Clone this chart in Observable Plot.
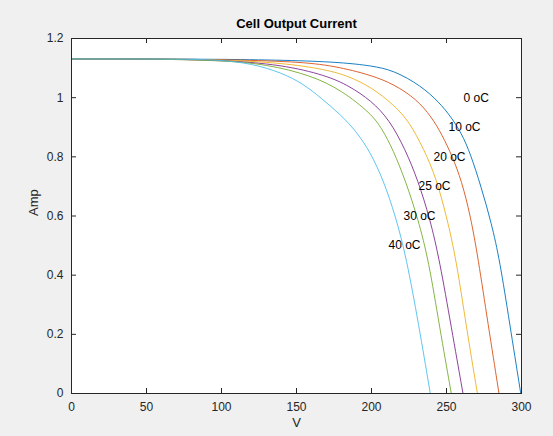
<!DOCTYPE html>
<html><head><meta charset="utf-8">
<script src="https://cdn.jsdelivr.net/npm/d3@7"></script>
<script src="https://cdn.jsdelivr.net/npm/@observablehq/plot@0.6"></script>
<style>
html,body{margin:0;padding:0;background:#f0f0f0;}
</style></head><body><div id="chart"></div>
<script>
const temps = ["0 oC", "10 oC", "20 oC", "25 oC", "30 oC", "40 oC"];
const colors = ["#0072BD", "#D95319", "#EDB120", "#7E2F8E", "#77AC30", "#4DBEEE"];

const v0 = [0, 50, 100, 150, 180, 200, 215, 233, 245, 253, 260, 266, 273, 280, 285.5, 292, 299.5];
const i0 = [1.131, 1.131, 1.130, 1.126, 1.119, 1.108, 1.092, 1.04, 0.985, 0.935, 0.88, 0.81, 0.70, 0.575, 0.45, 0.24, 0];
const v10 = [0, 50, 100, 150, 175, 200, 215, 230, 240, 247, 254, 260, 266, 271, 277.7, 285];
const i10 = [1.131, 1.131, 1.129, 1.122, 1.108, 1.076, 1.045, 0.995, 0.935, 0.875, 0.80, 0.72, 0.60, 0.46, 0.235, 0];
const v20 = [0, 50, 100, 140, 170, 185, 200, 215, 225, 235, 243, 250, 256.6, 263.2, 270.6];
const i20 = [1.131, 1.131, 1.128, 1.118, 1.095, 1.072, 1.035, 0.975, 0.92, 0.825, 0.73, 0.60, 0.45, 0.226, 0];
const v25 = [0, 50, 100, 140, 170, 185, 199.8, 212, 222.5, 231, 239, 245.4, 253.2, 261];
const i25 = [1.131, 1.131, 1.127, 1.112, 1.075, 1.04, 0.99, 0.925, 0.825, 0.72, 0.59, 0.45, 0.224, 0];
const v30 = [0, 50, 100, 130, 160, 180, 199.8, 207, 214.3, 223, 231, 238.1, 245.4, 253.2];
const i30 = [1.131, 1.131, 1.126, 1.113, 1.075, 1.025, 0.946, 0.895, 0.825, 0.715, 0.59, 0.45, 0.224, 0];
const v40 = [0, 50, 80, 100, 120, 140, 155, 166, 180, 190, 199.3, 208, 216, 223.2, 231.4, 239.2];
const i40 = [1.131, 1.131, 1.13, 1.127, 1.115, 1.085, 1.045, 1.0, 0.94, 0.885, 0.815, 0.72, 0.60, 0.46, 0.235, 0];

const labelV = [260, 250, 240, 230, 220, 210];
const labelI = [1.0, 0.9, 0.8, 0.7, 0.6, 0.5];
const xTicks = [0, 50, 100, 150, 200, 250, 300];
const yTicks = [0, 0.2, 0.4, 0.6, 0.8, 1.0, 1.2];

const series = [[v0, i0], [v10, i10], [v20, i20], [v25, i25], [v30, i30], [v40, i40]];
const rows = [];
series.forEach(([vs, is], k) => vs.forEach((v, j) => rows.push({temp: temps[k], v, i: is[j]})));
const labels = temps.map((t, k) => ({t, v: labelV[k], i: labelI[k]}));

const W = 553, H = 436, mT = 38, mB = 43, mL = 71, mR = 32;
const fh = H - mT - mB, fw = W - mL - mR;
const ink = "#262626";

const chart = Plot.plot({
  width: W, height: H,
  marginTop: mT, marginBottom: mB, marginLeft: mL, marginRight: mR,
  style: {fontFamily: "'Liberation Sans', Arial, sans-serif", fontSize: "12px", background: "#f0f0f0", color: ink, overflow: "visible"},
  x: {domain: [0, 300]},
  y: {domain: [0, 1.2]},
  color: {domain: temps, range: colors},
  marks: [
    Plot.frame({fill: "white", stroke: null}),
    Plot.line(rows, {x: "v", y: "i", z: "temp", stroke: "temp", strokeWidth: 0.9, curve: "basis"}),
    Plot.text(labels, {x: "v", y: "i", text: "t", textAnchor: "start", dx: 2, fill: "#000", fontSize: 12}),
    Plot.tickX(xTicks, {x: d => d, insetTop: fh - 5, stroke: ink}),
    Plot.tickX(xTicks, {x: d => d, insetBottom: fh - 5, stroke: ink}),
    Plot.tickY(yTicks, {y: d => d, insetRight: fw - 5, stroke: ink}),
    Plot.tickY(yTicks, {y: d => d, insetLeft: fw - 5, stroke: ink}),
    Plot.frame({stroke: ink, strokeWidth: 1}),
    Plot.axisX({ticks: xTicks, tickSize: 0, tickPadding: 9, label: null, fontSize: 12, tickFormat: d => String(d)}),
    Plot.axisY({ticks: yTicks, tickSize: 0, tickPadding: 8, label: null, fontSize: 12, tickFormat: d => String(+d.toFixed(1))}),
    Plot.text(["Cell Output Current"], {frameAnchor: "top", lineAnchor: "middle", dy: -15, fontWeight: "bold", fontSize: 13, fill: "#000"}),
    Plot.text(["V"], {frameAnchor: "bottom", lineAnchor: "middle", dy: 29, fontSize: 13}),
    Plot.text(["Amp"], {frameAnchor: "left", lineAnchor: "middle", dx: -38, rotate: -90, fontSize: 13})
  ]
});
document.getElementById("chart").appendChild(chart);
</script>
</body></html>
